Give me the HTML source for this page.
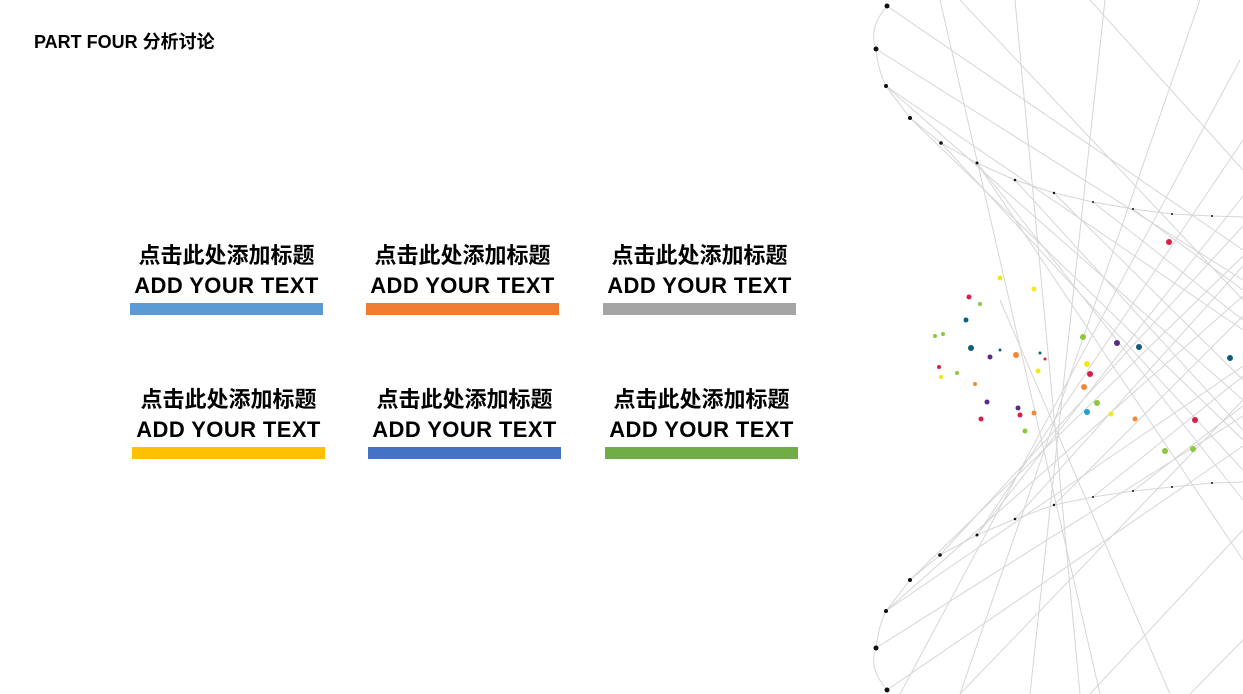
<!DOCTYPE html>
<html><head><meta charset="utf-8"><style>
html,body{margin:0;padding:0;background:#fff;width:1243px;height:694px;overflow:hidden;position:relative;font-family:"Liberation Sans","Noto Sans CJK SC",sans-serif}
.t{position:absolute;left:34px;top:28px;font-size:18px;font-weight:bold;color:#000}
.c{position:absolute;width:193px;text-align:center;color:#000;font-weight:bold}
.c .cn{font-size:22px;line-height:30px;height:30px}
.c .en{font-size:22px;line-height:30px;height:30px;letter-spacing:0.4px}
.c .bar{height:12px;margin-top:2px}
svg{position:absolute;left:0;top:0}
</style></head><body>
<div class="t">PART FOUR 分析讨论</div>
<div class="c" style="left:130px;top:241px"><div class="cn">点击此处添加标题</div><div class="en">ADD YOUR TEXT</div><div class="bar" style="background:#5b9bd5"></div></div>
<div class="c" style="left:366px;top:241px"><div class="cn">点击此处添加标题</div><div class="en">ADD YOUR TEXT</div><div class="bar" style="background:#ed7d31"></div></div>
<div class="c" style="left:603px;top:241px"><div class="cn">点击此处添加标题</div><div class="en">ADD YOUR TEXT</div><div class="bar" style="background:#a5a5a5"></div></div>
<div class="c" style="left:132px;top:385px"><div class="cn">点击此处添加标题</div><div class="en">ADD YOUR TEXT</div><div class="bar" style="background:#ffc000"></div></div>
<div class="c" style="left:368px;top:385px"><div class="cn">点击此处添加标题</div><div class="en">ADD YOUR TEXT</div><div class="bar" style="background:#4472c4"></div></div>
<div class="c" style="left:605px;top:385px"><div class="cn">点击此处添加标题</div><div class="en">ADD YOUR TEXT</div><div class="bar" style="background:#70ad47"></div></div>
<svg width="1243" height="694" viewBox="0 0 1243 694">
<g stroke="#d6d6d6" stroke-width="1" fill="none">
<path d="M887,6 Q868,28 876,49 Q878,70 886,86 L910,118 L941,143 L977,163 L1015,180 L1054,193 L1093,202 L1133,209 L1172,214 L1212,216 L1243,217"/>
<path d="M887,690 Q868,668 876,648 Q878,628 886,611 L910,580 L940,555 L977,535 L1015,519 L1054,505 L1093,497 L1133,491 L1172,487 L1212,483 L1243,482"/>
<line x1="887" y1="6" x2="1243" y2="250"/><line x1="876" y1="49" x2="1243" y2="280"/>
<line x1="886" y1="86" x2="1243" y2="330"/><line x1="886" y1="86" x2="1243" y2="400"/>
<line x1="910" y1="118" x2="1243" y2="440"/><line x1="941" y1="143" x2="1243" y2="470"/>
<line x1="977" y1="163" x2="1243" y2="500"/><line x1="1015" y1="180" x2="1243" y2="430"/>
<line x1="1054" y1="193" x2="1243" y2="380"/><line x1="1093" y1="202" x2="1243" y2="320"/>
<line x1="1133" y1="209" x2="1243" y2="290"/><line x1="977" y1="163" x2="1243" y2="560"/>
<line x1="887" y1="690" x2="1243" y2="446"/><line x1="876" y1="648" x2="1243" y2="416"/>
<line x1="886" y1="611" x2="1243" y2="366"/><line x1="886" y1="611" x2="1243" y2="296"/>
<line x1="910" y1="580" x2="1243" y2="256"/><line x1="940" y1="555" x2="1243" y2="226"/>
<line x1="977" y1="535" x2="1243" y2="196"/><line x1="1015" y1="519" x2="1243" y2="266"/>
<line x1="1054" y1="505" x2="1243" y2="316"/><line x1="1093" y1="497" x2="1243" y2="376"/>
<line x1="1133" y1="491" x2="1243" y2="406"/><line x1="977" y1="535" x2="1243" y2="140"/>
<line x1="940" y1="0" x2="1100" y2="694"/><line x1="1015" y1="0" x2="1080" y2="694"/>
<line x1="1105" y1="0" x2="1030" y2="694"/><line x1="1200" y1="0" x2="960" y2="694"/>
<line x1="1240" y1="60" x2="900" y2="694"/><line x1="960" y1="0" x2="1243" y2="300"/>
<line x1="1090" y1="0" x2="1243" y2="170"/><line x1="960" y1="694" x2="1243" y2="400"/>
<line x1="1090" y1="694" x2="1243" y2="530"/><line x1="1190" y1="694" x2="1243" y2="640"/>
<line x1="1170" y1="694" x2="1000" y2="300"/>
</g>
<g fill="#111">
<circle cx="887" cy="6" r="2.5"/><circle cx="876" cy="49" r="2.5"/><circle cx="886" cy="86" r="2"/><circle cx="910" cy="118" r="2"/><circle cx="941" cy="143" r="1.8"/><circle cx="977" cy="163" r="1.5"/><circle cx="1015" cy="180" r="1.3"/><circle cx="1054" cy="193" r="1.2"/><circle cx="1093" cy="202" r="1"/><circle cx="1133" cy="209" r="1"/><circle cx="1172" cy="214" r="1"/><circle cx="1212" cy="216" r="1"/>
<circle cx="887" cy="690" r="2.5"/><circle cx="876" cy="648" r="2.5"/><circle cx="886" cy="611" r="2"/><circle cx="910" cy="580" r="2"/><circle cx="940" cy="555" r="1.8"/><circle cx="977" cy="535" r="1.5"/><circle cx="1015" cy="519" r="1.3"/><circle cx="1054" cy="505" r="1.2"/><circle cx="1093" cy="497" r="1"/><circle cx="1133" cy="491" r="1"/><circle cx="1172" cy="487" r="1"/><circle cx="1212" cy="483" r="1"/>
</g>
<g>
<circle cx="1169" cy="242" r="3" fill="#d91e48"/><circle cx="1000" cy="278" r="2.5" fill="#f5e51b"/><circle cx="1034" cy="289" r="2.5" fill="#f5e51b"/>
<circle cx="969" cy="297" r="2.5" fill="#d91e48"/><circle cx="980" cy="304" r="2" fill="#8dc63f"/><circle cx="966" cy="320" r="2.5" fill="#0e5f7f"/>
<circle cx="935" cy="336" r="2" fill="#8dc63f"/><circle cx="943" cy="334" r="2" fill="#8dc63f"/><circle cx="971" cy="348" r="3" fill="#0e5f7f"/>
<circle cx="990" cy="357" r="2.5" fill="#5b2a86"/><circle cx="1016" cy="355" r="3" fill="#f58634"/><circle cx="1038" cy="371" r="2.5" fill="#f5e51b"/>
<circle cx="939" cy="367" r="2" fill="#d91e48"/><circle cx="941" cy="377" r="2" fill="#f5e51b"/><circle cx="957" cy="373" r="2" fill="#8dc63f"/>
<circle cx="975" cy="384" r="2" fill="#f58634"/><circle cx="987" cy="402" r="2.5" fill="#5b2a86"/><circle cx="1018" cy="408" r="2.5" fill="#5b2a86"/>
<circle cx="981" cy="419" r="2.5" fill="#d91e48"/><circle cx="1020" cy="415" r="2.5" fill="#d91e48"/><circle cx="1034" cy="413" r="2.5" fill="#f58634"/>
<circle cx="1025" cy="431" r="2.5" fill="#8dc63f"/><circle cx="1083" cy="337" r="3" fill="#8dc63f"/><circle cx="1117" cy="343" r="3" fill="#5b2a86"/>
<circle cx="1139" cy="347" r="3" fill="#0e5f7f"/><circle cx="1087" cy="364" r="3" fill="#f5e51b"/><circle cx="1090" cy="374" r="3" fill="#d91e48"/>
<circle cx="1084" cy="387" r="3" fill="#f58634"/><circle cx="1097" cy="403" r="3" fill="#8dc63f"/><circle cx="1087" cy="412" r="3" fill="#1fa1d1"/>
<circle cx="1111" cy="414" r="2.5" fill="#f5e51b"/><circle cx="1135" cy="419" r="2.5" fill="#f58634"/><circle cx="1195" cy="420" r="3" fill="#d91e48"/>
<circle cx="1165" cy="451" r="3" fill="#8dc63f"/><circle cx="1193" cy="449" r="3" fill="#8dc63f"/><circle cx="1230" cy="358" r="3" fill="#0e5f7f"/>
<circle cx="1000" cy="350" r="1.5" fill="#0e5f7f"/><circle cx="1040" cy="353" r="1.5" fill="#0e5f7f"/><circle cx="1045" cy="359" r="1.5" fill="#d91e48"/>
</g>
</svg>
</body></html>
